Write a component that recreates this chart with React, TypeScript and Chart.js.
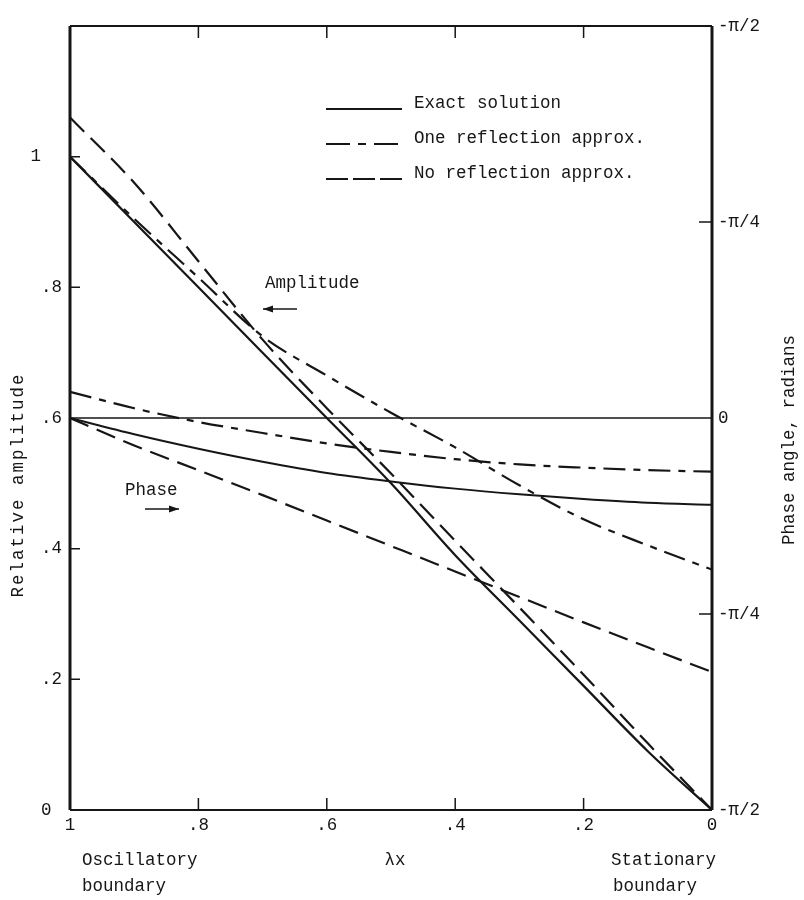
import React, { useEffect, useRef } from "react";
import { Chart, registerables } from "chart.js";

Chart.register(...registerables);

// ---- data ----
const lambdaX = [1, 0.9, 0.8, 0.7, 0.6, 0.5, 0.4, 0.3, 0.2, 0.1, 0];

// relative amplitude (left axis)
const ampExact = [1.0, 0.9, 0.8, 0.7, 0.6, 0.5, 0.39, 0.29, 0.19, 0.09, 0];
const ampOneReflection = [1.0, 0.905, 0.815, 0.725, 0.665, 0.608, 0.555, 0.497, 0.445, 0.405, 0.368];
const ampNoReflection = [1.06, 0.96, 0.84, 0.72, 0.615, 0.515, 0.412, 0.31, 0.207, 0.102, 0];

// phase angle in radians (right axis)
const phaseExact = [0, -0.065, -0.123, -0.175, -0.22, -0.254, -0.283, -0.306, -0.325, -0.34, -0.348];
const phaseOneReflection = [0.105, 0.039, -0.016, -0.06, -0.102, -0.136, -0.165, -0.186, -0.199, -0.209, -0.215];
const phaseNoReflection = [0, -0.11, -0.209, -0.309, -0.411, -0.513, -0.615, -0.717, -0.819, -0.919, -1.018];

const phaseZeroLine = [0, 0];
const phaseZeroX = [1, 0];

const xTicks = [1, 0.8, 0.6, 0.4, 0.2, 0];
const ampTicks = [0, 0.2, 0.4, 0.6, 0.8, 1];
const ampTickLabels = ["0 ", ".2", ".4", ".6", ".8", "1  "];
const phaseTicks = [-Math.PI / 2, -Math.PI / 4, 0, Math.PI / 4, Math.PI / 2];
const phaseTickLabels = ["-π/2", "-π/4", "0", "-π/4", "-π/2"];

const legendLabels = ["Exact solution", "One reflection approx.", "No reflection approx."];

const INK = "#161616";
const FONT = "'Liberation Mono', 'DejaVu Sans Mono', monospace";
const FS = 17.5;

const SOLID: number[] = [];
const DASH_DOT = [22, 8, 7, 8];
const DASHED = [20, 9];
const LEGEND_DASHES = [[], [24, 8, 8, 8], [22, 5]];

const pts = (xs: number[], ys: number[]) => xs.map((x, i) => ({ x, y: ys[i] }));

const overlay = {
  id: "overlay",
  afterDraw(chart: any) {
    const { ctx, chartArea: a, scales } = chart;
    const sx = scales.x;
    const sy = scales.y;
    const sy2 = scales.y2;
    ctx.save();
    ctx.strokeStyle = INK;
    ctx.fillStyle = INK;
    ctx.setLineDash([]);

    // frame
    ctx.lineWidth = 2;
    ctx.beginPath();
    ctx.moveTo(a.left, a.top);
    ctx.lineTo(a.right, a.top);
    ctx.moveTo(a.left, a.bottom);
    ctx.lineTo(a.right, a.bottom);
    ctx.stroke();
    ctx.lineWidth = 3;
    ctx.beginPath();
    ctx.moveTo(a.left, a.top);
    ctx.lineTo(a.left, a.bottom);
    ctx.moveTo(a.right, a.top);
    ctx.lineTo(a.right, a.bottom);
    ctx.stroke();

    // inward tick marks
    ctx.lineWidth = 1.5;
    ctx.beginPath();
    [0.8, 0.6, 0.4, 0.2].forEach((v) => {
      const px = sx.getPixelForValue(v);
      ctx.moveTo(px, a.bottom);
      ctx.lineTo(px, a.bottom - 12);
      ctx.moveTo(px, a.top);
      ctx.lineTo(px, a.top + 12);
    });
    [0.2, 0.4, 0.8, 1.0].forEach((v) => {
      const py = sy.getPixelForValue(v);
      ctx.moveTo(a.left, py);
      ctx.lineTo(a.left + 10, py);
    });
    [-Math.PI / 4, Math.PI / 4].forEach((v) => {
      const py = sy2.getPixelForValue(v);
      ctx.moveTo(a.right, py);
      ctx.lineTo(a.right - 13, py);
    });
    ctx.stroke();

    // legend
    ctx.font = `${FS}px ${FONT}`;
    ctx.textBaseline = "middle";
    ctx.textAlign = "left";
    const ly = [103, 138, 173];
    legendLabels.forEach((t, i) => {
      ctx.lineWidth = 2;
      ctx.setLineDash(LEGEND_DASHES[i]);
      ctx.beginPath();
      ctx.moveTo(326, ly[i] + 6);
      ctx.lineTo(402, ly[i] + 6);
      ctx.stroke();
      ctx.setLineDash([]);
      ctx.fillText(t, 414, ly[i]);
    });

    // annotations
    ctx.fillText("Amplitude", 265, 283);
    ctx.fillText("Phase", 125, 490);
    const arrow = (x1: number, x2: number, y: number) => {
      ctx.lineWidth = 1.5;
      ctx.beginPath();
      ctx.moveTo(x1, y);
      ctx.lineTo(x2, y);
      ctx.stroke();
      const dir = Math.sign(x2 - x1);
      ctx.beginPath();
      ctx.moveTo(x2, y);
      ctx.lineTo(x2 - dir * 10, y - 3.5);
      ctx.lineTo(x2 - dir * 10, y + 3.5);
      ctx.closePath();
      ctx.fill();
    };
    arrow(297, 263, 309);
    arrow(145, 179, 509);

    // bottom texts
    ctx.fillText("Oscillatory", 82, 860);
    ctx.fillText("boundary", 82, 886);
    ctx.fillText("Stationary", 611, 860);
    ctx.fillText("boundary", 613, 886);
    ctx.textAlign = "center";
    ctx.fillText("λx", 395, 860);

    // axis titles
    ctx.save();
    ctx.translate(18, 485);
    ctx.rotate(-Math.PI / 2);
    try {
      (ctx as any).letterSpacing = "2px";
    } catch (e) {}
    ctx.fillText("Relative amplitude", 0, 0);
    ctx.restore();
    ctx.save();
    ctx.translate(789, 440);
    ctx.rotate(-Math.PI / 2);
    ctx.fillText("Phase angle, radians", 0, 0);
    ctx.restore();

    ctx.restore();
  },
};

export default function App() {
  const ref = useRef<HTMLCanvasElement | null>(null);

  useEffect(() => {
    if (!ref.current) return;
    const lineDs = (data: any, dash: number[], axis: string, width = 2.2) => ({
      data,
      yAxisID: axis,
      borderColor: INK,
      borderWidth: width,
      borderDash: dash,
      pointRadius: 0,
      fill: false,
      tension: 0.35,
      cubicInterpolationMode: "monotone",
    });
    const noGrid = { display: false, drawTicks: false, tickLength: 0 };
    const chart = new Chart(ref.current, {
      type: "line",
      data: {
        datasets: [
          lineDs(pts(phaseZeroX, phaseZeroLine), SOLID, "y2", 1.3),
          lineDs(pts(lambdaX, ampExact), SOLID, "y"),
          lineDs(pts(lambdaX, ampOneReflection), DASH_DOT, "y"),
          lineDs(pts(lambdaX, ampNoReflection), DASHED, "y"),
          lineDs(pts(lambdaX, phaseExact), SOLID, "y2", 2),
          lineDs(pts(lambdaX, phaseOneReflection), DASH_DOT, "y2"),
          lineDs(pts(lambdaX, phaseNoReflection), DASHED, "y2"),
        ] as any,
      },
      options: {
        animation: false,
        responsive: false,
        devicePixelRatio: 1,
        layout: { padding: { top: 26, left: 0, right: 0, bottom: 0 } },
        plugins: { legend: { display: false }, tooltip: { enabled: false } },
        scales: {
          x: {
            type: "linear",
            min: 0,
            max: 1,
            reverse: true,
            grid: noGrid,
            border: { display: false },
            afterFit: (s: any) => {
              s.height = 90;
            },
            afterBuildTicks: (s: any) => {
              s.ticks = xTicks.map((v) => ({ value: v }));
            },
            ticks: {
              autoSkip: false,
              maxRotation: 0,
              padding: 5,
              color: INK,
              font: { family: FONT, size: FS },
              callback: (v: any) => {
                const n = Number(v);
                if (n === 0) return "0";
                if (n === 1) return "1";
                return n.toFixed(1).replace(/^0/, "");
              },
            },
          },
          y: {
            type: "linear",
            position: "left",
            min: 0,
            max: 1.2,
            grid: noGrid,
            border: { display: false },
            afterFit: (s: any) => {
              s.width = 70;
            },
            afterBuildTicks: (s: any) => {
              s.ticks = ampTicks.map((v) => ({ value: v }));
            },
            ticks: {
              autoSkip: false,
              padding: 8,
              color: INK,
              font: { family: FONT, size: FS },
              callback: (v: any, i: number) => ampTickLabels[i],
            },
          },
          y2: {
            type: "linear",
            position: "right",
            min: -Math.PI / 2,
            max: Math.PI / 2,
            grid: noGrid,
            border: { display: false },
            afterFit: (s: any) => {
              s.width = 92;
            },
            afterBuildTicks: (s: any) => {
              s.ticks = phaseTicks.map((v) => ({ value: v }));
            },
            ticks: {
              autoSkip: false,
              padding: 6,
              color: INK,
              font: { family: FONT, size: FS },
              callback: (v: any, i: number) => phaseTickLabels[i],
            },
          },
        },
      },
      plugins: [overlay],
    });
    return () => chart.destroy();
  }, []);

  return (
    <div style={{ position: "absolute", left: 0, top: 0, width: 804, height: 900, background: "#fff" }}>
      <canvas ref={ref} width={804} height={900} style={{ display: "block" }} />
    </div>
  );
}
